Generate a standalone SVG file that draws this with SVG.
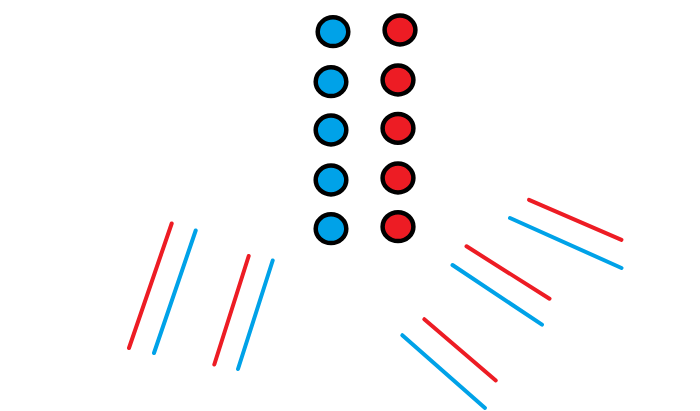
<svg xmlns="http://www.w3.org/2000/svg" width="700" height="411" viewBox="0 0 700 411">
<style>
.b{fill:#00A2E8;stroke:#000;stroke-width:4.5}
.r{fill:#ED1C24;stroke:#000;stroke-width:4.5}
.lr{stroke:#ED1C24;stroke-width:4;stroke-linecap:round;fill:none}
.lb{stroke:#00A2E8;stroke-width:4;stroke-linecap:round;fill:none}
</style>
<rect width="700" height="411" fill="#fff"/>
<g id="blue1"><ellipse class="b" cx="333" cy="31.7" rx="15.3" ry="14.4"/></g>
<g id="blue2"><ellipse class="b" cx="331" cy="81.7" rx="15.3" ry="14.4"/></g>
<g id="blue3"><ellipse class="b" cx="331" cy="130" rx="15.3" ry="14.4"/></g>
<g id="blue4"><ellipse class="b" cx="331" cy="180" rx="15.3" ry="14.4"/></g>
<g id="blue5"><ellipse class="b" cx="331" cy="228.7" rx="15.3" ry="14.4"/></g>
<g id="red1"><ellipse class="r" cx="400" cy="30" rx="15.4" ry="14.4"/></g>
<g id="red2"><ellipse class="r" cx="398" cy="80" rx="15.4" ry="14.4"/></g>
<g id="red3"><ellipse class="r" cx="398" cy="128.3" rx="15.4" ry="14.4"/></g>
<g id="red4"><ellipse class="r" cx="398" cy="178" rx="15.4" ry="14.4"/></g>
<g id="red5"><ellipse class="r" cx="398" cy="226.7" rx="15.4" ry="14.4"/></g>
<g id="connectors">
<line class="lr" x1="171.7" y1="223.5" x2="129" y2="348"/>
<line class="lb" x1="195.7" y1="230.5" x2="154" y2="353"/>
<line class="lr" x1="248.7" y1="256" x2="214.3" y2="364.5"/>
<line class="lb" x1="272.7" y1="260.5" x2="238" y2="369"/>
<line class="lr" x1="529" y1="199.8" x2="621.5" y2="239.8"/>
<line class="lb" x1="510" y1="218" x2="621.5" y2="268"/>
<line class="lr" x1="466.5" y1="246.3" x2="549.5" y2="298.7"/>
<line class="lb" x1="452.5" y1="265" x2="542" y2="324.7"/>
<line class="lr" x1="424.3" y1="319.2" x2="495.8" y2="380.5"/>
<line class="lb" x1="402.3" y1="335.2" x2="485" y2="408"/>
</g>
</svg>
